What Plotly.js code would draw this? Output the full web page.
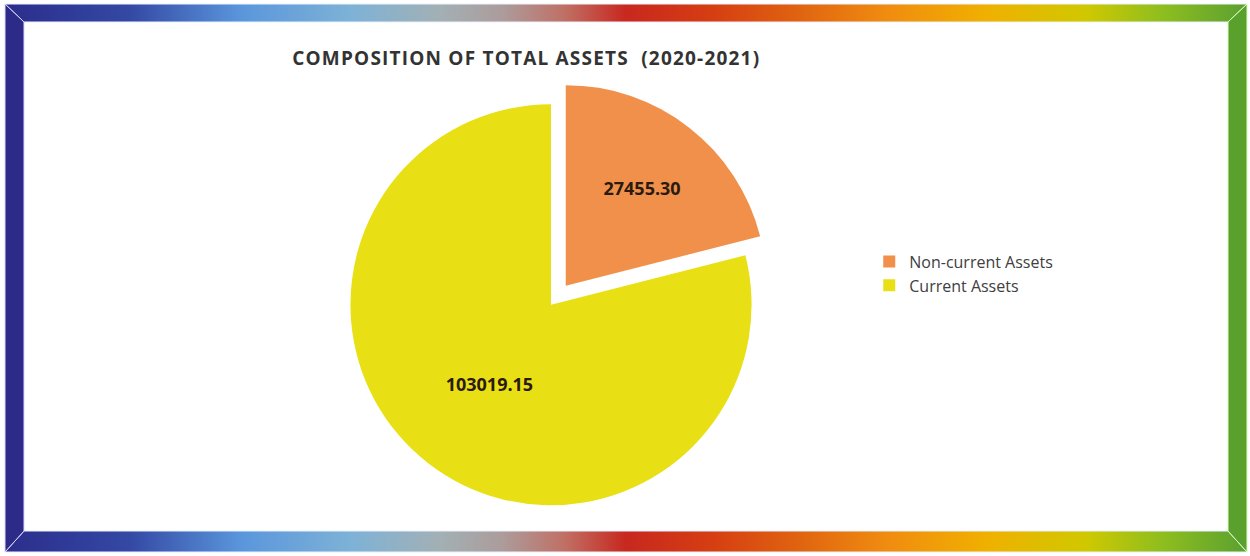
<!DOCTYPE html>
<html>
<head>
<meta charset="utf-8">
<script src="https://cdn.plot.ly/plotly-3.0.1.min.js"></script>
<style>
  html, body { margin: 0; padding: 0; background: #ffffff; }
  #wrap { position: relative; width: 1250px; height: 556px; overflow: hidden; background: #ffffff; }
  #frame { position: absolute; left: 0; top: 0; }
  #chart { position: absolute; left: 0; top: 0; width: 1250px; height: 556px; }
  #chart .gtitle { letter-spacing: 1.2px; }
</style>
</head>
<body>
<div id="wrap">
<svg id="frame" width="1250" height="556" xmlns="http://www.w3.org/2000/svg">
  <defs>
    <linearGradient id="rainbow" x1="0" y1="0" x2="1" y2="0">
      <stop offset="0" stop-color="#2b2d8c"/>
      <stop offset="0.10" stop-color="#3448a4"/>
      <stop offset="0.19" stop-color="#5a96dc"/>
      <stop offset="0.28" stop-color="#7eb2d6"/>
      <stop offset="0.35" stop-color="#a2b0b4"/>
      <stop offset="0.40" stop-color="#ac9c9c"/>
      <stop offset="0.45" stop-color="#c07066"/>
      <stop offset="0.50" stop-color="#c8281e"/>
      <stop offset="0.57" stop-color="#d63e12"/>
      <stop offset="0.64" stop-color="#e06410"/>
      <stop offset="0.71" stop-color="#f08c10"/>
      <stop offset="0.79" stop-color="#f0b000"/>
      <stop offset="0.87" stop-color="#d0c800"/>
      <stop offset="0.93" stop-color="#90be1e"/>
      <stop offset="1" stop-color="#5aa030"/>
    </linearGradient>
  </defs>
  <polygon points="5,4 1247,4 1228,22 24,22" fill="url(#rainbow)" stroke="#e8f0ff" stroke-width="1"/>
  <polygon points="5,552 1247,552 1228,531 24,531" fill="url(#rainbow)" stroke="#e8f0ff" stroke-width="1"/>
  <polygon points="5,4 24,22 24,531 5,552" fill="#2e2a88" stroke="#d8d8ff" stroke-width="1"/>
  <polygon points="1247,4 1228,22 1228,531 1247,552" fill="#5aa02c" stroke="#d8ffc0" stroke-width="1"/>
</svg>
<div id="chart"></div>
</div>
<script>
// ---- data ----
const labels = ["Non-current Assets", "Current Assets"];
const values = [27455.30, 103019.15];
const sliceColors = ["#f0904a", "#e8e014"];
const pulls = [0.12, 0];
const chartTitle = "COMPOSITION OF TOTAL ASSETS  (2020-2021)";

const trace = {
  type: "pie",
  labels: labels,
  values: values,
  sort: false,
  direction: "clockwise",
  rotation: 0,
  pull: pulls,
  marker: { colors: sliceColors, line: { width: 0 } },
  texttemplate: "%{value:.2f}",
  textposition: "inside",
  insidetextorientation: "horizontal",
  textfont: { family: "Open Sans, Liberation Sans, sans-serif", size: 18, color: "#2a1a10", weight: 700 },
  hoverinfo: "label+value",
  domain: { x: [0.2600, 0.6216], y: [0.0480, 0.8560] }
};

const layout = {
  width: 1250,
  height: 556,
  margin: { l: 0, r: 0, t: 0, b: 0 },
  paper_bgcolor: "rgba(0,0,0,0)",
  plot_bgcolor: "rgba(0,0,0,0)",
  showlegend: true,
  title: {
    text: "<b>" + chartTitle + "</b>",
    x: 0.421, xanchor: "center",
    y: 0.895, yanchor: "middle",
    font: { family: "Open Sans, Liberation Sans, sans-serif", size: 19, color: "#333333" }
  },
  legend: {
    x: 0.6954, xanchor: "left",
    y: 0.508, yanchor: "middle",
    font: { family: "Open Sans, Liberation Sans, sans-serif", size: 16, color: "#404040" },
    bgcolor: "rgba(0,0,0,0)",
    itemwidth: 30
  }
};

Plotly.newPlot("chart", [trace], layout, { displayModeBar: false, staticPlot: true });
</script>
</body>
</html>
